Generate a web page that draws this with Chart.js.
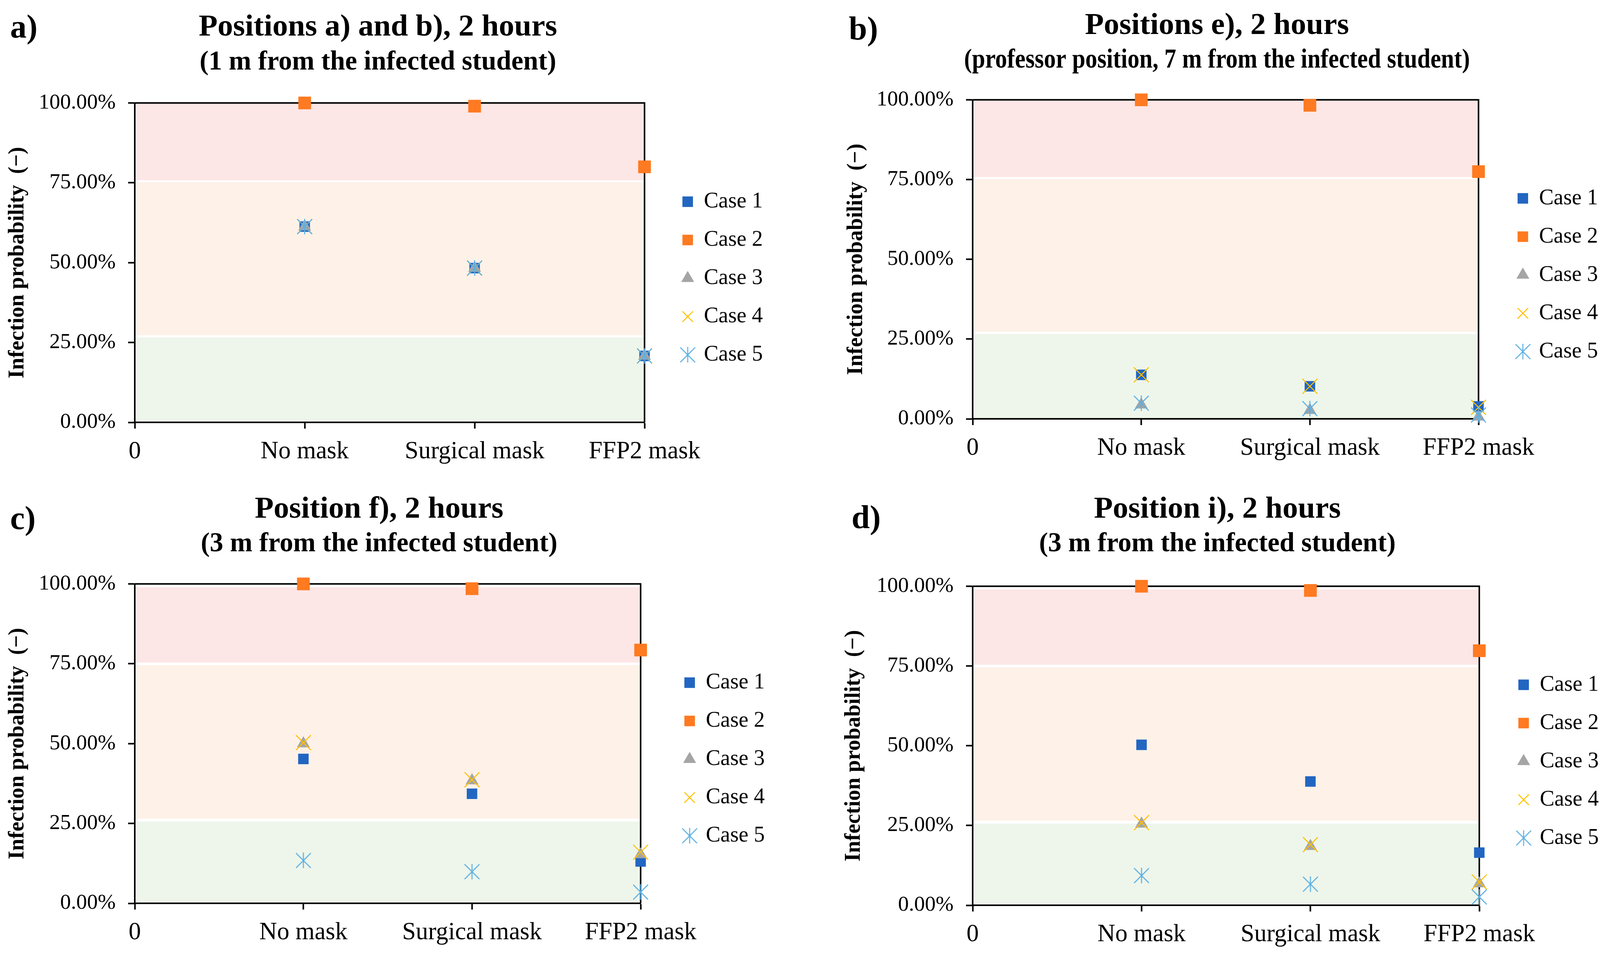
<!DOCTYPE html>
<html>
<head>
<meta charset="utf-8">
<script src="https://cdn.jsdelivr.net/npm/chart.js@4.4.1/dist/chart.umd.min.js"></script>
<style>
html, body { margin: 0; padding: 0; background: #fff; }
#page { position: relative; width: 4110px; height: 2452px; overflow: hidden; }
.panel { position: absolute; width: 2055px; height: 1226px; }
.tag { position: absolute; font: bold 84px 'Liberation Serif', 'Times New Roman', serif; line-height: 1; color: #000; }
</style>
</head>
<body>
<div id="page">
    <div class="panel" style="left:0;top:0"><canvas id="chartA"></canvas></div>
    <div class="panel" style="left:2055px;top:0"><canvas id="chartB"></canvas></div>
    <div class="panel" style="left:0;top:1226px"><canvas id="chartC"></canvas></div>
    <div class="panel" style="left:2055px;top:1226px"><canvas id="chartD"></canvas></div>
    <div class="tag" style="left:26px;top:26px">a)</div>
    <div class="tag" style="left:2173px;top:31px">b)</div>
    <div class="tag" style="left:26px;top:1284px">c)</div>
    <div class="tag" style="left:2180px;top:1282px">d)</div>
</div>
<script>
// data (infection probability in %)
const categories = ['No mask', 'Surgical mask', 'FFP2 mask'];
const caseNames = ['Case 1', 'Case 2', 'Case 3', 'Case 4', 'Case 5'];
const yTicks = [0, 25, 50, 75, 100];

// one row per case, one value per category
const dataA = [
    [61.3, 48.3, 20.8],
    [100, 99.0, 80.0],
    [61.3, 48.3, 20.8],
    [61.3, 48.3, 20.8],
    [61.3, 48.3, 20.8]
];
const dataB = [
    [13.8, 10.2, 3.9],
    [100, 98.3, 77.5],
    [4.4, 2.7, 0.6],
    [13.8, 10.2, 3.6],
    [4.9, 3.2, 1.2]
];
const dataC = [
    [45.2, 34.3, 13.1],
    [100, 98.5, 79.3],
    [50.0, 38.4, 15.3],
    [50.3, 38.7, 16.0],
    [13.4, 9.9, 3.5]
];
const dataD = [
    [50.3, 38.8, 16.5],
    [100, 98.7, 79.8],
    [25.5, 18.5, 6.8],
    [25.9, 19.0, 7.3],
    [9.3, 6.6, 2.6]
];

const titlesA = ['Positions a) and b), 2 hours', '(1 m from the infected student)'];
const titlesB = ['Positions e), 2 hours', '(professor position, 7 m from the infected student)'];
const titlesC = ['Position f), 2 hours', '(3 m from the infected student)'];
const titlesD = ['Position i), 2 hours', '(3 m from the infected student)'];

// risk bands [from, to] in %: low, medium, high
const bandsAB = [[0, 26.6], [27.3, 75.2], [75.8, 100]];
const bandsCD = [[0, 25.6], [26.5, 74.6], [75.4, 99]];

const FONT = "'Liberation Serif', 'Times New Roman', serif";
const bandColors = ['#EEF6EB', '#FDF1E8', '#FDE6E6'];
const caseColors = ['#2266C2', '#FF7A21', '#A5A5A5', '#FFC000', '#5AAFE3'];

const LEGEND_FONT = 56;
const LEGEND_BOX = 27;
const LEGEND_PAD = 42;

Chart.defaults.color = '#000';
Chart.defaults.font.family = FONT;

// Excel style asterisk marker (x with a vertical bar)
function makeAsterisk(color) {
    const c = document.createElement('canvas');
    c.width = 40;
    c.height = 40;
    const g = c.getContext('2d');
    g.strokeStyle = color;
    g.lineWidth = 2.6;
    g.beginPath();
    g.moveTo(1, 1); g.lineTo(39, 39);
    g.moveTo(39, 1); g.lineTo(1, 39);
    g.moveTo(20, 0); g.lineTo(20, 40);
    g.stroke();
    return c;
}
const asterisk = makeAsterisk(caseColors[4]);
const pointStyles = ['rect', 'rect', 'triangle', 'crossRot', asterisk];
const pointSizes = [19, 23, 19, 27, 20];

// same width that Chart.js gives a vertical legend
function legendWidth() {
    const g = document.createElement('canvas').getContext('2d');
    g.font = 'normal ' + LEGEND_FONT + 'px ' + FONT;
    const w = Math.max(...caseNames.map(n => g.measureText(n).width));
    return LEGEND_PAD + LEGEND_BOX + LEGEND_FONT / 2 + w + 10;
}
const legendW = legendWidth();

const bandsPlugin = {
    id: 'bands',
    beforeDraw(chart, args, opts) {
        const { ctx, chartArea: { left, right, top, bottom }, scales: { y } } = chart;
        ctx.save();
        opts.ranges.forEach((r, i) => {
            const y0 = y.getPixelForValue(r[0]);
            const y1 = y.getPixelForValue(r[1]);
            ctx.fillStyle = bandColors[i];
            ctx.fillRect(left, y1, right - left, y0 - y1);
        });
        // top and right frame lines
        ctx.strokeStyle = '#000';
        ctx.lineWidth = 4;
        ctx.beginPath();
        ctx.moveTo(left, top);
        ctx.lineTo(right, top);
        ctx.lineTo(right, bottom);
        ctx.stroke();
        ctx.restore();
    }
};

// small shifts of title and legend boxes after layout
const nudgePlugin = {
    id: 'nudge',
    afterLayout(chart, args, opts) {
        chart.boxes.forEach(b => {
            if (b.position === 'top') {
                b.left += opts.titleDx;
                b.right += opts.titleDx;
            }
        });
        const lg = chart.legend;
        lg.left += opts.legendDx;
        lg.right += opts.legendDx;
        lg.top += opts.legendDy;
        lg.bottom += opts.legendDy;
    }
};

function buildChart(id, titles, series, bands, frame) {
    const datasets = series.map((vals, i) => {
        return {
            label: caseNames[i],
            data: vals.map((v, k) => { return { x: k + 1, y: v }; }),
            pointStyle: pointStyles[i],
            pointRadius: pointSizes[i],
            pointHoverRadius: pointSizes[i],
            backgroundColor: caseColors[i],
            borderColor: caseColors[i],
            borderWidth: (i === 3) ? 2.6 : 0,
            showLine: false,
            clip: false,
            order: 4 - i
        };
    });

    return new Chart(document.getElementById(id), {
        type: 'scatter',
        data: { datasets: datasets },
        plugins: [bandsPlugin, nudgePlugin],
        options: {
            responsive: true,
            maintainAspectRatio: false,
            devicePixelRatio: 1,
            animation: false,
            events: [],
            layout: {
                padding: { top: 0, left: 0, bottom: 0, right: 2055 - frame.right - legendW }
            },
            scales: {
                x: {
                    type: 'linear',
                    min: 0,
                    max: 3,
                    afterFit: s => { s.height = 1226 - frame.bottom; },
                    ticks: {
                        stepSize: 1,
                        autoSkip: false,
                        maxRotation: 0,
                        padding: 22,
                        color: '#000',
                        font: { size: 63, family: FONT },
                        callback: v => v === 0 ? '0' : categories[v - 1]
                    },
                    grid: {
                        display: true,
                        drawOnChartArea: false,
                        drawTicks: true,
                        tickLength: 16,
                        tickWidth: 4,
                        tickColor: '#000'
                    },
                    border: { display: true, color: '#000', width: 4 }
                },
                y: {
                    min: 0,
                    max: 100,
                    afterFit: s => { s.width = frame.left; },
                    afterBuildTicks: s => { s.ticks = yTicks.map(v => ({ value: v })); },
                    ticks: {
                        padding: 32,
                        color: '#000',
                        font: { size: 55, family: FONT },
                        callback: v => v.toFixed(2) + '%'
                    },
                    grid: {
                        display: true,
                        drawOnChartArea: false,
                        drawTicks: true,
                        tickLength: 17,
                        tickWidth: 4,
                        tickColor: '#000'
                    },
                    border: { display: true, color: '#000', width: 4 },
                    title: {
                        display: true,
                        text: 'Infection probability  (\u2212)',
                        color: '#000',
                        font: { size: 56, weight: 'bold', family: FONT },
                        padding: { top: frame.yTitlePad, bottom: 0 }
                    }
                }
            },
            plugins: {
                bands: { ranges: bands },
                nudge: { titleDx: frame.titleDx, legendDx: frame.legendDx, legendDy: 40 },
                tooltip: { enabled: false },
                title: {
                    display: true,
                    fullSize: false,
                    text: titles[0],
                    color: '#000',
                    font: { size: 79, weight: 'bold', family: FONT },
                    padding: { top: frame.titlePad - 2, bottom: 0 }
                },
                subtitle: {
                    display: true,
                    fullSize: false,
                    text: titles[1],
                    color: '#000',
                    font: { size: 69, weight: 'bold', family: FONT },
                    padding: { top: frame.subTop, bottom: frame.subBottom - 5 }
                },
                legend: {
                    position: 'right',
                    align: 'center',
                    fullSize: false,
                    labels: {
                        usePointStyle: true,
                        boxWidth: LEGEND_BOX,
                        boxHeight: LEGEND_BOX,
                        padding: LEGEND_PAD,
                        color: '#000',
                        font: { size: LEGEND_FONT, family: FONT },
                        sort: (a, b) => a.datasetIndex - b.datasetIndex
                    }
                }
            }
        }
    });
}

buildChart('chartA', titlesA, dataA, bandsAB,
    { left: 345, right: 1650, bottom: 1081, titlePad: 25, subTop: 1, subBottom: 67, yTitlePad: 12, legendDx: 55, titleDx: -30 });
buildChart('chartB', titlesB, dataB, bandsAB,
    { left: 435, right: 1730, bottom: 1072, titlePad: 21, subTop: 0, subBottom: 64, yTitlePad: 104, legendDx: 58, titleDx: -22 });
buildChart('chartC', titlesC, dataC, bandsCD,
    { left: 345, right: 1640, bottom: 1086, titlePad: 33, subTop: 0, subBottom: 65, yTitlePad: 12, legendDx: 70, titleDx: -22 });
buildChart('chartD', titlesD, dataD, bandsCD,
    { left: 435, right: 1732, bottom: 1091, titlePad: 33, subTop: 0, subBottom: 71, yTitlePad: 98, legendDx: 58, titleDx: -22 });
</script>
</body>
</html>
